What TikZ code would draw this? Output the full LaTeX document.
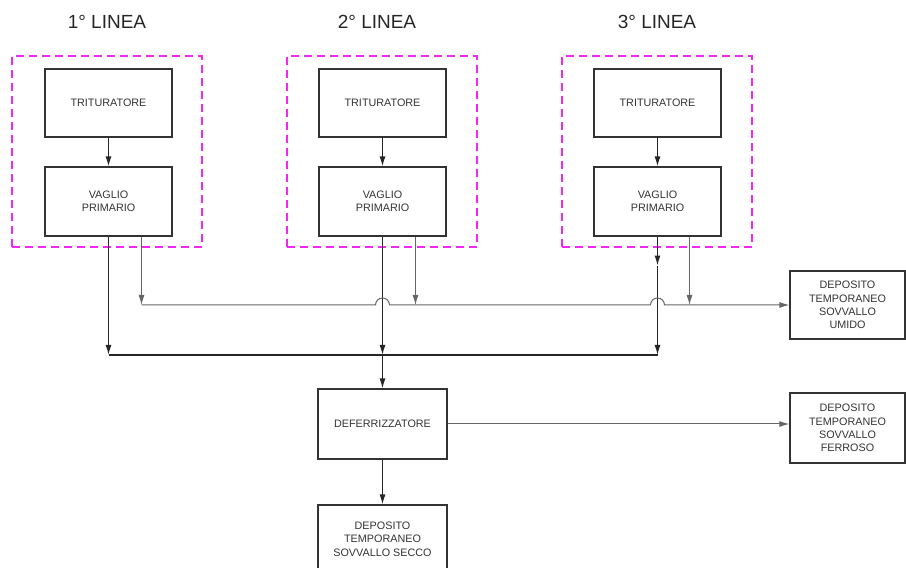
\documentclass[tikz,border=0pt]{standalone}
\usepackage{fontspec}
\setmainfont{Liberation Sans}
\usetikzlibrary{arrows.meta,positioning}
\definecolor{frame}{RGB}{240,40,240}

\begin{document}
\begin{tikzpicture}[
    x=1pt,y=1pt,
    unit/.style={draw=black!80,line width=1.1pt,minimum width=127pt,minimum height=68pt,inner sep=0pt,align=center,text=black!80,font=\fontsize{10.8}{13.4}\selectfont},
    depot/.style={unit,minimum width=115pt},
    group/.style={draw=frame,line width=1.3pt,dash pattern=on 8pt off 5pt,minimum width=190pt,minimum height=191pt},
    title/.style={font=\fontsize{19}{22}\selectfont,text=black!85},
    main/.style={line width=1.3pt,black!85},
    wet/.style={line width=1pt,black!60},
    >={Latex[length=10pt,width=6pt]}
]
\useasboundingbox (0,0) rectangle (906,568);
\clip (0,0) rectangle (906,568);
\node[group] (g1) at (107,416.5) {};
\node[group] (g2) at (382,416.5) {};
\node[group] (g3) at (657,416.5) {};
\node[title] (t1) at (107,546) {1° LINEA};
\node[title] (t2) at (377,546) {2° LINEA};
\node[title] (t3) at (657,546) {3° LINEA};
\node[unit] (trit1) at (108.5,465) {TRITURATORE};
\node[unit] (trit2) at (382.5,465) {TRITURATORE};
\node[unit] (trit3) at (657.5,465) {TRITURATORE};
\node[unit,minimum height=69pt] (vag1) at (108.5,366.5) {VAGLIO\\PRIMARIO};
\node[unit,minimum height=69pt] (vag2) at (382.5,366.5) {VAGLIO\\PRIMARIO};
\node[unit,minimum height=69pt] (vag3) at (657.5,366.5) {VAGLIO\\PRIMARIO};
\node[unit,minimum width=129pt,minimum height=70pt] (defer) at (382.5,144) {DEFERRIZZATORE};
\node[unit,minimum width=129pt] (secco) at (382.5,29) {DEPOSITO\\TEMPORANEO\\SOVVALLO SECCO};
\node[depot] (umido) at (847.5,263) {DEPOSITO\\TEMPORANEO\\SOVVALLO\\UMIDO};
\node[depot,minimum height=70pt] (ferroso) at (847.5,140) {DEPOSITO\\TEMPORANEO\\SOVVALLO\\FERROSO};
\coordinate (bus) at (0,213);
\coordinate (wet) at (0,263);
\coordinate (s1) at ([xshift=33pt]vag1.south);
\coordinate (s2) at ([xshift=33pt]vag2.south);
\coordinate (s3) at ([xshift=32pt]vag3.south);
\coordinate (mid3) at ([yshift=-29pt]vag3.south);
\path (vag2.south |- wet) ++(-7pt,0) coordinate (j2);
\path (vag3.south |- wet) ++(-7pt,0) coordinate (j3);
\draw[main,->] (trit1) -- (vag1);
\draw[main,->] (trit2) -- (vag2);
\draw[main,->] (trit3) -- (vag3);
\draw[main,->] (vag1.south) -- (vag1.south |- bus);
\draw[main] (vag1.south |- bus) -- (vag3.south |- bus);
\draw[main,->] (vag2.south) -- (vag2.south |- bus);
\draw[main,->] (vag2.south |- bus) -- (defer.north);
\draw[main,->] (vag3.south) -- (mid3);
\draw[main,->] (mid3) -- (vag3.south |- bus);
\draw[wet,->] (s1) -- (s1 |- wet);
\draw[wet,->] (s2) -- (s2 |- wet);
\draw[wet,->] (s3) -- (s3 |- wet);
\draw[wet,->] (s1 |- wet) -- (j2) arc[start angle=180,end angle=0,radius=7pt] -- (j3) arc[start angle=180,end angle=0,radius=7pt] -- (umido.west);
\draw[wet,->] (defer.east) -- (defer.east -| ferroso.west);
\draw[main,->] (defer) -- (secco);
\end{tikzpicture}
\end{document}
